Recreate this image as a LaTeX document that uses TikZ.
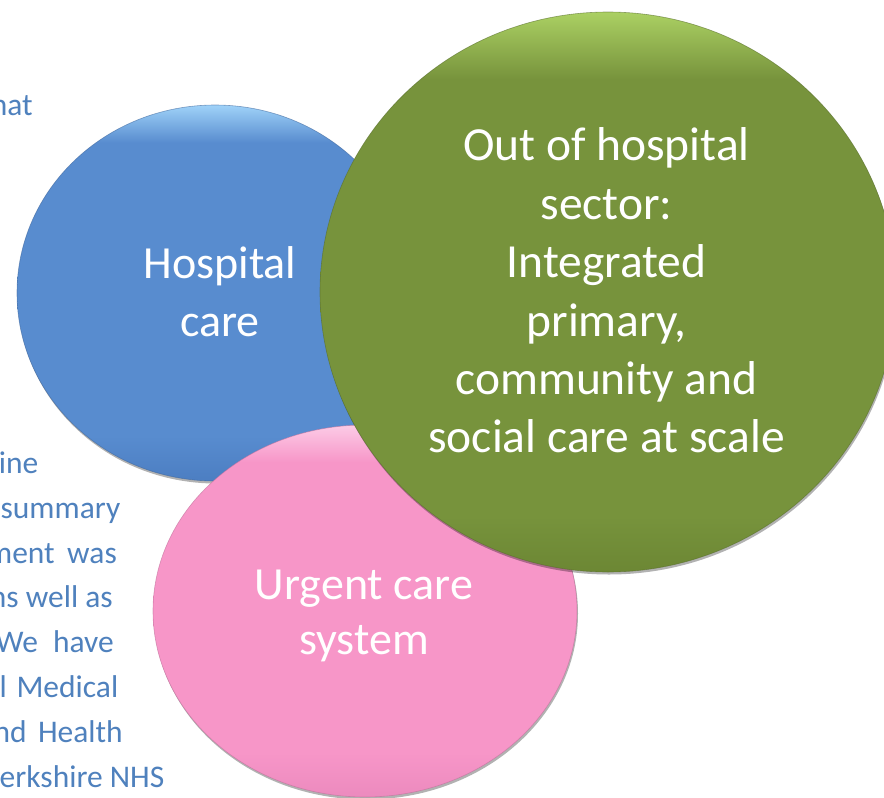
\documentclass[tikz,border=0pt]{standalone}
\usepackage{fontspec}
\setmainfont{Carlito}
\usetikzlibrary{shapes.geometric,shadows}
\definecolor{bluemain}{HTML}{588CCF}
\definecolor{bluedark}{HTML}{4C7EC2}
\definecolor{bluetop}{HTML}{9FD2F8}
\definecolor{greenmain}{HTML}{77933C}
\definecolor{greendark}{HTML}{6C8734}
\definecolor{greentop}{HTML}{ABD063}
\definecolor{pinkmain}{HTML}{F796C8}
\definecolor{pinkdark}{HTML}{EC8ABE}
\definecolor{pinktop}{HTML}{FCCBE6}
\definecolor{leftblue}{HTML}{4F81BD}
\pgfdeclareverticalshading{blueball}{100bp}{color(0bp)=(bluedark); color(25bp)=(bluedark); color(31bp)=(bluemain); color(70bp)=(bluemain); color(75bp)=(bluetop); color(100bp)=(bluetop)}
\pgfdeclareverticalshading{greenball}{100bp}{color(0bp)=(greendark); color(25bp)=(greendark); color(30bp)=(greenmain); color(69bp)=(greenmain); color(75bp)=(greentop); color(100bp)=(greentop)}
\pgfdeclareverticalshading{pinkball}{100bp}{color(0bp)=(pinkdark); color(25bp)=(pinkdark); color(31bp)=(pinkmain); color(70bp)=(pinkmain); color(75bp)=(pinktop); color(100bp)=(pinktop)}
\begin{document}
\begin{tikzpicture}[x=1pt,y=-1pt,
  ball/.style={ellipse, inner sep=0pt, outer sep=0pt, draw=#1dark!80!black, draw opacity=0.6, line width=0.6pt, shade, shading=#1ball,
    drop shadow={shadow xshift=1pt, shadow yshift=-2.5pt, opacity=0.3, fill=black}},
  bigtext/.style={text=white, align=center, inner sep=0pt},
  sidetext/.style={text=leftblue, anchor=base east, inner sep=0pt, font=\fontsize{31.5}{38}\selectfont}]
\useasboundingbox (0,0) rectangle (884,798);
\clip (0,0) rectangle (884,798);
% side text, partly hidden
\node[sidetext] (t1) at (33,115) {hat};
\node[sidetext] (t2) at (38.5,473.4) {ine};
\node[sidetext] (t3) at (120.5,518.2) {summary};
\node[sidetext] (t4) at (117,563) {ment\hspace{12.5pt}was};
\node[sidetext] (t5) at (113,607.8) {ns well as};
\node[sidetext] (t6) at (114,652.6) {We\hspace{15pt}have};
\node[sidetext] (t7) at (118.5,697.4) {l\hspace{9.8pt}Medical};
\node[sidetext] (t8) at (123,742.2) {nd\hspace{11.3pt}Health};
\node[sidetext] (t9) at (164.5,787) {erkshire NHS};
% circles
\node[ball=blue, minimum width=396pt, minimum height=376pt] (hc) at (215,293) {};
\node[bigtext, font=\fontsize{46}{58}\selectfont] (hct) at (220,292) {Hospital\\care};
\node[ball=pink, minimum width=424pt, minimum height=372pt] (uc) at (365,611) {};
\node[bigtext, font=\fontsize{46}{55}\selectfont] (uct) at (364,616) {Urgent care\\system};
\node[ball=green, minimum width=576pt, minimum height=560pt] (oh) at (608,292) {};
\node[bigtext, font=\fontsize{47.5}{58.4}\selectfont] (oht) at (606.5,290.5) {Out of hospital\\sector:\\Integrated\\primary,\\community and\\social care at scale};
\end{tikzpicture}
\end{document}
